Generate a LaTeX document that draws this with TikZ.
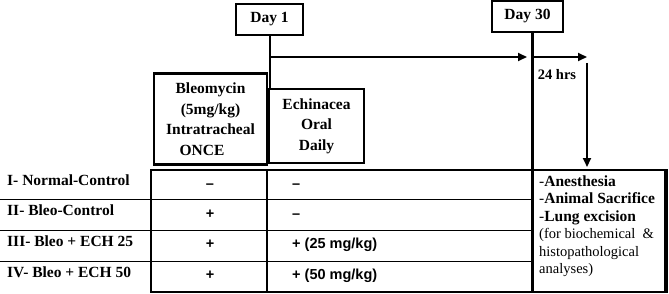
\documentclass[tikz,border=0pt]{standalone}
\usepackage{fontspec}
\setmainfont{Liberation Serif}
\newfontfamily\cellfont{Liberation Sans}
\usetikzlibrary{arrows.meta}
\begin{document}
\begin{tikzpicture}[x=1pt,y=-1pt,
  tbox/.style={draw, line width=2.5pt, align=center, inner sep=0pt,
    font=\bfseries\fontsize{15.5}{20.5}\selectfont},
  lbl/.style={anchor=base west, inner sep=0pt, font=\bfseries\fontsize{15.5}{18}\selectfont},
  sign/.style={anchor=base, inner sep=0pt, font=\cellfont\bfseries\fontsize{14.5}{17}\selectfont},
  dose/.style={anchor=base west, inner sep=0pt, font=\cellfont\bfseries\fontsize{14.5}{17}\selectfont},
  arr/.style={line width=2pt, -{Triangle[length=9pt,width=8pt]}},
  thick line/.style={line width=2.5pt},
  thin line/.style={line width=1.3pt}]
\useasboundingbox (0,0) rectangle (669,294);

% boxes
\node[tbox, minimum width=67pt, minimum height=31pt] (day1) at (269.5,19.5) {Day 1};
\node[tbox, minimum width=71pt, minimum height=31pt] (day30) at (527.5,16.5) {Day 30};
\node[tbox, minimum width=113pt, minimum height=91pt] (bleo) at (210.5,119) {Bleomycin\\(5mg/kg)\\Intratracheal\\ONCE\hspace*{17pt}};
\node[tbox, minimum width=95pt, minimum height=74pt] (ech) at (316.5,126) {Echinacea\\Oral\\Daily};

% connectors
\coordinate (d1b) at (270,57);
\coordinate (d30h) at (527,57);
\coordinate (d30l) at (532,57);
\coordinate (hrsEnd) at (587,57);
\coordinate (downTop) at (587,63);
\coordinate (downEnd) at (587,167);
\coordinate (d30bottom) at (532,292);
\draw[thick line] (day1.south -| d1b) -- (d1b |- ech.north);
\draw[arr] (d1b) -- (d30h);
\draw[line width=3pt] (day30.south -| d30l) -- (d30bottom);
\draw[arr] (d30l) -- (hrsEnd);
\draw[arr] (downTop) -- (downEnd);
\node[font=\bfseries\fontsize{14.5}{17}\selectfont, inner sep=0pt] (hrs) at (557,75) {24 hrs};

% table lines
\draw[thin line] (0,199.5) -- (532,199.5);
\draw[thin line] (0,230.5) -- (532,230.5);
\draw[thin line] (0,261.5) -- (532,261.5);
\draw[line width=2pt] (150,170) -- (666,170);
\draw[line width=1.8pt] (150,292) -- (667,292);
\draw[thick line] (151,169) -- (151,293);
\draw[thick line] (267,169) -- (267,293);
\draw[line width=3.5pt] (666,169) -- (666,293);

% row labels
\node[lbl] (r1) at (7,185.5) {I- Normal-Control};
\node[lbl] (r2) at (7,215.5) {II- Bleo-Control};
\node[lbl] (r3) at (7,246.5) {III- Bleo + ECH 25};
\node[lbl] (r4) at (7,277.5) {IV- Bleo + ECH 50};

% column 1
\node[sign] (c11) at (210,188) {–};
\node[sign] (c12) at (210,218) {+};
\node[sign] (c13) at (210,248.5) {+};
\node[sign] (c14) at (210,279) {+};

% column 2
\node[dose] (c21) at (292,188) {–};
\node[dose] (c22) at (292,218) {–};
\node[dose] (c23) at (292,248.5) {+ (25 mg/kg)};
\node[dose] (c24) at (292,279) {+ (50 mg/kg)};

% procedures
\node[anchor=north west, inner sep=0pt, align=left,
  font=\fontsize{15.5}{17.4}\selectfont] (proc) at (539,175.5)
  {-\textbf{Anesthesia}\\-\textbf{Animal Sacrifice}\\-\textbf{Lung excision}\\{\fontsize{14.5}{17.4}\selectfont(for biochemical\ \ \&}\\{\fontsize{14.5}{17.4}\selectfont histopathological}\\{\fontsize{14.5}{17.4}\selectfont analyses)}};
\end{tikzpicture}
\end{document}
